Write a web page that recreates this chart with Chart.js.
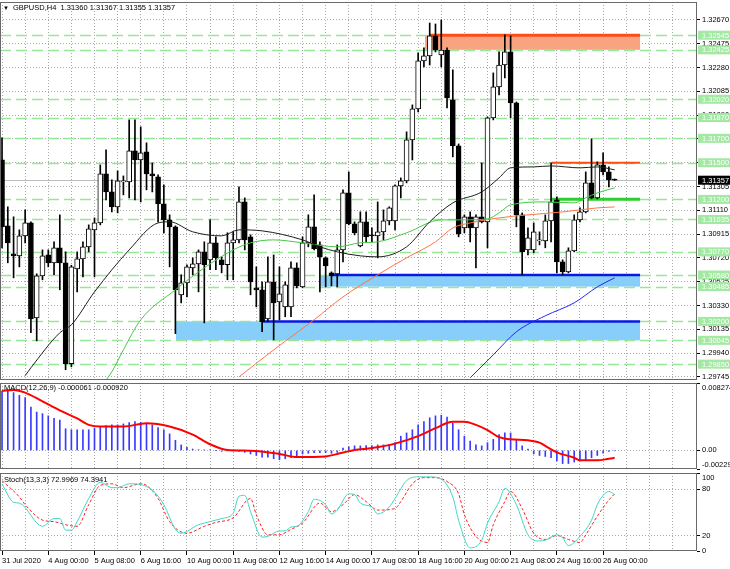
<!DOCTYPE html>
<html><head><meta charset="utf-8">
<script src="https://cdn.jsdelivr.net/npm/chart.js@4/dist/chart.umd.min.js"></script>
<style>
html,body{margin:0;padding:0;background:#fff;width:730px;height:569px;overflow:hidden;position:relative}
canvas{position:absolute;left:0}
#c1{top:0}
#c2{top:376px}
#c3{top:466px}
</style></head><body>
<canvas id="c1" width="730" height="381"></canvas>
<canvas id="c2" width="730" height="96"></canvas>
<canvas id="c3" width="730" height="103"></canvas>
<script>
// ---------------- DATA ----------------
const symbolTitle = 'GBPUSD,H4';
const barIdx = [...Array(107).keys()];
const openP = [1.31523,1.30983,1.30754,1.30737,1.30901,1.31007,1.30229,1.30573,1.30745,1.30680,
 1.30803,1.30680,1.29853,1.30631,1.30713,1.30811,1.30950,1.31007,1.31409,1.31261,
 1.31139,1.31343,1.31343,1.31597,1.31523,1.31589,1.31409,1.31384,1.31163,1.31032,
 1.30975,1.30418,1.30516,1.30639,1.30672,1.30770,1.30704,1.30844,1.30704,1.30664,
 1.30844,1.30868,1.31179,1.30893,1.30475,1.30459,1.30221,1.30524,1.30360,1.30319,
 1.30319,1.30639,1.30483,1.30844,1.30975,1.30827,1.30721,1.30598,1.30590,1.30786,
 1.31253,1.30999,1.30819,1.31016,1.30909,1.30901,1.30934,1.31024,1.31024,1.31310,
 1.31351,1.31687,1.31941,1.32334,1.32375,1.32539,1.32383,1.32424,1.32015,1.31638,
 1.30966,1.31057,1.30966,1.31057,1.31016,1.31867,1.32121,1.32301,1.32408,1.31990,
 1.31073,1.30786,1.30786,1.30860,1.30860,1.31024,1.31196,1.30688,1.30606,1.30778,
 1.31032,1.31098,1.31335,1.31212,1.31482,1.31425,1.31360];
const highP = [1.31704,1.31139,1.31057,1.30950,1.31114,1.31016,1.30590,1.30786,1.30786,1.30852,
 1.31073,1.30770,1.30660,1.30770,1.30852,1.30991,1.31048,1.31482,1.31605,1.31360,
 1.31433,1.31392,1.31851,1.31851,1.31794,1.31663,1.31499,1.31401,1.31319,1.31073,
 1.30983,1.30582,1.30664,1.30721,1.30786,1.30852,1.31032,1.30893,1.30729,1.30926,
 1.30934,1.31302,1.31212,1.30909,1.30647,1.30524,1.30729,1.30745,1.30647,1.30524,
 1.30688,1.30680,1.30893,1.31073,1.31237,1.30852,1.30729,1.30606,1.30827,1.31278,
 1.31425,1.31016,1.31098,1.31098,1.30966,1.31179,1.31114,1.31139,1.31319,1.31376,
 1.31753,1.31974,1.32400,1.32441,1.32645,1.32637,1.32670,1.32441,1.32261,1.31654,
 1.31073,1.31098,1.31073,1.31499,1.31875,1.32236,1.32408,1.32547,1.32539,1.31998,
 1.31089,1.30966,1.31007,1.30934,1.31073,1.31499,1.31220,1.30704,1.30803,1.31073,
 1.31130,1.31425,1.31695,1.31507,1.31581,1.31466,1.31367];
const lowP = [1.30803,1.30680,1.30557,1.30647,1.30844,1.30107,1.30041,1.30541,1.30647,1.30582,
 1.30459,1.29804,1.29828,1.30442,1.30565,1.30770,1.30565,1.30991,1.31196,1.31098,
 1.31089,1.31237,1.31212,1.31196,1.31179,1.31278,1.31261,1.31016,1.30926,1.30647,
 1.30100,1.30352,1.30401,1.30582,1.30442,1.30188,1.30623,1.30623,1.30598,1.30541,
 1.30541,1.30844,1.30786,1.30418,1.30319,1.30115,1.30197,1.30049,1.30213,1.30238,
 1.30238,1.30475,1.30475,1.30811,1.30786,1.30442,1.30483,1.30491,1.30483,1.30688,
 1.30991,1.30909,1.30811,1.30852,1.30852,1.30721,1.30868,1.30991,1.30950,1.31212,
 1.31335,1.31523,1.31917,1.32285,1.32301,1.32408,1.32285,1.31949,1.31548,1.30893,
 1.30926,1.30852,1.30639,1.31007,1.30803,1.31851,1.32056,1.32195,1.31867,1.30975,
 1.30582,1.30745,1.30762,1.30827,1.30803,1.30852,1.30598,1.30582,1.30598,1.30770,
 1.31016,1.31089,1.31204,1.31204,1.31401,1.31302,1.31355];
const closeP = [1.30975,1.30844,1.30737,1.30901,1.31007,1.30221,1.30573,1.30737,1.30680,1.30803,
 1.30680,1.29853,1.30647,1.30713,1.30811,1.30958,1.31007,1.31409,1.31261,1.31139,
 1.31351,1.31351,1.31597,1.31523,1.31581,1.31409,1.31392,1.31163,1.31032,1.30975,
 1.30459,1.30516,1.30647,1.30672,1.30770,1.30664,1.30844,1.30721,1.30664,1.30844,
 1.30868,1.31179,1.30868,1.30524,1.30459,1.30197,1.30524,1.30352,1.30426,1.30500,
 1.30639,1.30491,1.30844,1.30975,1.30795,1.30729,1.30655,1.30573,1.30786,1.31253,
 1.30999,1.30926,1.31016,1.30893,1.30901,1.30934,1.31024,1.31130,1.31310,1.31351,
 1.31687,1.31941,1.32334,1.32375,1.32539,1.32424,1.32424,1.32031,1.31638,1.30917,
 1.31057,1.30966,1.31057,1.31016,1.31867,1.32121,1.32301,1.32408,1.31990,1.31073,
 1.30770,1.30885,1.30934,1.30868,1.31024,1.31179,1.30688,1.30606,1.30778,1.31032,
 1.31098,1.31335,1.31212,1.31482,1.31425,1.31360,1.31357];

// moving averages (bar index / value)
const maBlackBars = [4,5,10,12,16,22,27,29,33,38,41,45,52,55,58,62,65,70,74,78,83,86,88,92,95,100,103,106];
const maBlackVals = [1.29755,1.29820,1.30107,1.30172,1.30442,1.30786,1.31007,1.31016,1.30934,1.30901,1.30950,1.30942,1.30868,1.30811,1.30770,1.30737,1.30729,1.30811,1.31016,1.31171,1.31261,1.31376,1.31458,1.31466,1.31474,1.31458,1.31466,1.31442];
const maGreenBars = [18,19,21,24,30,35,40,43,47,52,58,62,65,70,76,80,84,86,88,94,99,101,103,106];
const maGreenVals = [1.29720,1.29787,1.29967,1.30213,1.30459,1.30639,1.30786,1.30844,1.30868,1.30844,1.30811,1.30844,1.30852,1.30926,1.31032,1.31032,1.31040,1.31089,1.31155,1.31179,1.31171,1.31212,1.31253,1.31294];
const maOrangeBars = [41,47,51,54,59,65,70,75,78,81,86,91,97,103,106];
const maOrangeVals = [1.29745,1.29967,1.30107,1.30213,1.30401,1.30582,1.30721,1.30852,1.30966,1.31007,1.31048,1.31073,1.31097,1.31130,1.31138];
const maBlueBars = [81,85,89,94,99,103,106];
const maBlueVals = [1.29738,1.29926,1.30115,1.30246,1.30352,1.30483,1.30557];

// horizontal levels, rectangles, lines
const levelPrices = [1.32545,1.32425,1.32020,1.31870,1.31700,1.31500,1.31200,1.31035,1.30770,1.30580,1.30485,1.30200,1.30045,1.29850];
const lastPrice = 1.31357;
const rectFromBar = [73.2, 55.1, 30.1];
const rectToBar = [110.4, 110.4, 110.4];
const rectHigh = [1.32545, 1.30580, 1.30200];
const rectLow = [1.32425, 1.30485, 1.30045];
const trendFromBar = [74, 57, 45, 95.1, 95.1];
const trendToBar = [110.4, 110.4, 110.4, 110.4, 110.4];
const trendPrice = [1.32545, 1.30580, 1.30200, 1.31500, 1.31200];

// axis ticks
const priceTicks = [1.32670,1.32475,1.32280,1.32085,1.31890,1.31695,1.31500,1.31305,1.31110,1.30915,1.30720,1.30525,1.30330,1.30135,1.29940,1.29745];
const gridBars = [0,4,8,12,16,20,24,28,32,36,40,44,48,52,56,60,64,68,72,76,80,84,88,92,96,100,104,108,112,116];
const dateTickBars = [0,8,16,24,32,40,48,56,64,72,80,88,96,104];
const dateTickLabels = ['31 Jul 2020','4 Aug 00:00','5 Aug 08:00','6 Aug 16:00','10 Aug 00:00','11 Aug 08:00','12 Aug 16:00','14 Aug 00:00','17 Aug 08:00','18 Aug 16:00','20 Aug 00:00','21 Aug 08:00','24 Aug 16:00','26 Aug 00:00'];

// MACD
const macdTitle = 'MACD(12,26,9) -0.000061 -0.000920';
const macdHist = [0.00729,0.00741,0.00709,0.00677,0.00649,0.00531,0.00471,0.00451,0.00424,0.00392,
 0.00372,0.00265,0.00253,0.00253,0.00253,0.00253,0.00273,0.00293,0.00305,0.00313,
 0.00313,0.00325,0.00341,0.00352,0.00345,0.00333,0.00313,0.00281,0.00253,0.00202,
 0.00123,0.00067,0.00036,0.00016,0.00008,0.00004,0.00004,0.00000,-0.00012,-0.00004,
 -0.00004,-0.00012,-0.00024,-0.00044,-0.00063,-0.00083,-0.00083,-0.00103,-0.00115,-0.00103,
 -0.00091,-0.00083,-0.00044,-0.00036,-0.00028,-0.00028,-0.00028,-0.00036,-0.00024,0.00028,
 0.00044,0.00055,0.00055,0.00059,0.00059,0.00067,0.00067,0.00075,0.00095,0.00174,
 0.00214,0.00253,0.00313,0.00352,0.00400,0.00424,0.00432,0.00408,0.00333,0.00253,
 0.00174,0.00115,0.00067,0.00055,0.00095,0.00135,0.00194,0.00214,0.00214,0.00135,
 0.00055,0.00016,-0.00044,-0.00063,-0.00075,-0.00091,-0.00131,-0.00162,-0.00162,-0.00143,
 -0.00131,-0.00115,-0.00091,-0.00063,-0.00036,-0.00012,-0.00006];
const macdSigBars = [0,2,4,7,10,13,15,17,21,25,29,33,36,39,43,48,51,56,58,61,64,68,72,75,78,80,82,84,86,88,91,93,94,96,99,100,103,105,106];
const macdSigVals = [0.00729,0.00741,0.00709,0.00602,0.00491,0.00392,0.00313,0.00293,0.00293,0.00333,0.00293,0.00194,0.00075,0.00004,-0.00004,-0.00044,-0.00083,-0.00075,-0.00044,0.00004,0.00028,0.00083,0.00174,0.00273,0.00352,0.00352,0.00313,0.00249,0.00162,0.00135,0.00123,0.00095,0.00055,-0.00024,-0.00091,-0.00123,-0.00123,-0.00103,-0.00092];
const macdTicks = [-0.00229, 0, 0.008274];
const macdTickLabels = ['-0.00229', '0.00', '0.008274'];

// Stochastic
const stochTitle = 'Stoch(13,3,3) 72.9969 74.3941';
const stKBars = [0,2,3,7,9,10,11,12,13,15,17,19,20,22,24,26,28,30,31,34,36,38,40,41,42,43,45,46,48,49,50,51,53,54,56,57,58,60,61,62,64,65,67,68,70,72,74,76,78,79,81,83,84,86,87,89,91,93,94,96,97,98,100,102,103,104,105,106];
const stKVals = [87,63,62,32,42,42,27,27,38,68,89,82,82,87,86,79,60,28,23,34,38,42,49,71,72,51,18,19,26,26,31,32,51,67,60,48,53,74,73,62,57,48,57,68,91,96,96,93,70,40,4,14,36,64,81,60,21,13,14,21,17,7,19,40,60,72,77,73];
const stDBars = [0,3,4,7,9,11,13,15,17,19,21,24,25,27,29,32,35,37,40,43,44,46,48,50,52,55,57,59,61,63,65,68,69,71,73,75,77,79,80,82,84,85,87,88,90,92,94,96,98,100,101,103,105,106];
const stDVals = [91,70,60,40,38,34,32,60,85,87,82,87,85,68,38,23,32,37,43,68,47,21,21,28,36,62,51,60,73,64,53,55,64,87,95,95,90,74,47,19,11,34,64,77,55,23,15,20,15,11,21,45,66,74];
const stochTicks = [0, 20, 80, 100];

// ---------------- STYLE / LAYOUT ----------------
const FONT = "'Liberation Sans', Arial, sans-serif";
const GRID = '#a9a9a9';
const FRAME = '#6a6a6a';
const X_MIN = -0.35, X_MAX = 120.25;
Chart.defaults.font.family = FONT;
Chart.defaults.font.size = 7.5;
Chart.defaults.color = '#000';
Chart.defaults.animation = false;
Chart.defaults.plugins.legend.display = false;
Chart.defaults.plugins.tooltip.enabled = false;

const pts = (bars, vals) => bars.map((b, k) => ({x: b, y: vals[k]}));

function xAxis(show) {
  return {
    type: 'linear', min: X_MIN, max: X_MAX, offset: false,
    afterBuildTicks: s => { s.ticks = gridBars.map(v => ({value: v})); },
    afterFit: s => { s.height = show ? 18 : 0; s.paddingLeft = 0; s.paddingRight = 0; },
    grid: {
      color: GRID, offset: false, drawTicks: show, tickLength: 4, tickBorderDash: [],
      tickColor: c => (c.tick && dateTickBars.includes(c.tick.value)) ? '#000' : 'rgba(0,0,0,0)'
    },
    border: {display: false, dash: [1, 2]},
    ticks: {
      display: show, autoSkip: false, maxRotation: 0, minRotation: 0, align: 'start', padding: 1,
      callback: v => { const k = dateTickBars.indexOf(v); return k >= 0 ? dateTickLabels[k] : ''; }
    }
  };
}
function yAxisBase(extra) {
  return Object.assign({
    position: 'right', beginAtZero: false,
    afterFit: s => { s.width = 33; s.paddingTop = 0; s.paddingBottom = 0; },
    border: {display: false, dash: [1, 2]},
  }, extra);
}
function framePlugin(id, title, titleDy) {
  return {
    id,
    afterDraw(chart) {
      const {ctx, chartArea: a} = chart;
      ctx.save();
      ctx.strokeStyle = FRAME; ctx.lineWidth = 1;
      ctx.strokeRect(Math.round(a.left) + 0.5, Math.round(a.top) + 0.5, Math.round(a.right - a.left) - 1, Math.round(a.bottom - a.top) - 1);
      if (title) {
        ctx.fillStyle = '#000'; ctx.font = '7.5px ' + FONT; ctx.textBaseline = 'middle'; ctx.textAlign = 'left';
        ctx.fillText(title, a.left + 4, a.top + titleDy);
      }
      ctx.restore();
    }
  };
}

// ---------------- MAIN PRICE CHART ----------------
const levelPlugin = {
  id: 'levels',
  beforeDatasetsDraw(chart) {
    const {ctx, chartArea: a, scales: {x, y}} = chart;
    ctx.save();
    ctx.beginPath(); ctx.rect(a.left, a.top, a.right - a.left, a.bottom - a.top); ctx.clip();
    const fills = ['#f9a481', '#87cefa', '#87cefa'];
    rectFromBar.forEach((b, k) => {
      const x1 = x.getPixelForValue(b), x2 = x.getPixelForValue(rectToBar[k]);
      const y1 = y.getPixelForValue(rectHigh[k]), y2 = y.getPixelForValue(rectLow[k]);
      ctx.fillStyle = fills[k];
      ctx.fillRect(x1, y1, x2 - x1, y2 - y1);
    });
    ctx.strokeStyle = '#98e698'; ctx.lineWidth = 1.3; ctx.setLineDash([11, 5]);
    levelPrices.forEach(p => {
      const yy = Math.round(y.getPixelForValue(p)) + 0.5;
      ctx.beginPath(); ctx.moveTo(a.left, yy); ctx.lineTo(a.right, yy); ctx.stroke();
    });
    ctx.setLineDash([]);
    const yl = Math.round(y.getPixelForValue(lastPrice)) + 0.5;
    ctx.strokeStyle = '#bdbdbd'; ctx.lineWidth = 1;
    ctx.beginPath(); ctx.moveTo(a.left, yl); ctx.lineTo(a.right, yl); ctx.stroke();
    const cols = ['#ff4b14', '#0a18e6', '#0a18e6', '#ff4b14', '#2ccf2c'];
    const widths = [3, 2.5, 2.5, 2, 3];
    trendFromBar.forEach((b, k) => {
      const yy = y.getPixelForValue(trendPrice[k]);
      ctx.strokeStyle = cols[k]; ctx.lineWidth = widths[k];
      ctx.beginPath(); ctx.moveTo(x.getPixelForValue(b), yy); ctx.lineTo(x.getPixelForValue(trendToBar[k]), yy); ctx.stroke();
    });
    ctx.restore();
  },
  afterDraw(chart) {
    const {ctx, chartArea: a, scales: {y}} = chart;
    ctx.save();
    ctx.font = '7.5px ' + FONT; ctx.textBaseline = 'middle'; ctx.textAlign = 'left';
    levelPrices.forEach(p => {
      const yy = y.getPixelForValue(p);
      ctx.fillStyle = '#a3e8a3'; ctx.fillRect(a.right + 1, yy - 4.5, 32, 9);
      ctx.fillStyle = '#ffffff'; ctx.fillText(p.toFixed(5), a.right + 5, yy + 0.5);
    });
    const yl = y.getPixelForValue(lastPrice);
    ctx.fillStyle = '#000'; ctx.fillRect(a.right + 1, yl - 4.5, 32, 9);
    ctx.fillStyle = '#fff'; ctx.fillText(lastPrice.toFixed(5), a.right + 5, yl + 0.5);
    ctx.fillStyle = '#000';
    ctx.font = '6px ' + FONT;
    ctx.fillText('▼', a.left + 3, 8);
    ctx.font = '7.5px ' + FONT;
    const n = openP.length - 1;
    ctx.fillText(symbolTitle + '  ' + [openP[n], highP[n], lowP[n], closeP[n]].map(v => v.toFixed(5)).join(' '), a.left + 13, 8);
    ctx.restore();
  }
};

new Chart(document.getElementById('c1'), {
  type: 'bar',
  data: {
    datasets: [
      {type: 'line', data: pts(maBlackBars, maBlackVals), borderColor: '#1e1e1e', borderWidth: 1, pointRadius: 0, cubicInterpolationMode: 'monotone', order: 0},
      {type: 'line', data: pts(maGreenBars, maGreenVals), borderColor: '#46c846', borderWidth: 1, pointRadius: 0, cubicInterpolationMode: 'monotone', order: 0},
      {type: 'line', data: pts(maOrangeBars, maOrangeVals), borderColor: '#ff7446', borderWidth: 1, pointRadius: 0, cubicInterpolationMode: 'monotone', order: 0},
      {type: 'line', data: pts(maBlueBars, maBlueVals), borderColor: '#2424ff', borderWidth: 1, pointRadius: 0, cubicInterpolationMode: 'monotone', order: 0},
      {data: barIdx.map(i => ({x: i, y: [openP[i], closeP[i]]})), barThickness: 5, grouped: false, minBarLength: 1,
       backgroundColor: c => closeP[c.dataIndex] >= openP[c.dataIndex] ? '#ffffff' : '#000000',
       borderColor: '#000', borderWidth: 1, borderSkipped: false, order: 1},
      {data: barIdx.map(i => ({x: i, y: [lowP[i], highP[i]]})), barThickness: 1, grouped: false,
       backgroundColor: '#000', borderWidth: 0, order: 2}
    ]
  },
  options: {
    responsive: false, devicePixelRatio: 1,
    layout: {padding: {top: 2, left: 0, right: 0, bottom: 1}},
    scales: {
      x: xAxis(false),
      y: yAxisBase({
        min: 1.29720, max: 1.32817,
        afterBuildTicks: s => { s.ticks = priceTicks.map(v => ({value: v})); },
        ticks: {autoSkip: false, padding: 2, callback: v => v.toFixed(5)},
        grid: {color: GRID, tickColor: '#000', tickLength: 3, tickBorderDash: []}
      })
    }
  },
  plugins: [levelPlugin, framePlugin('f1', null, 0)]
});

// ---------------- MACD ----------------
new Chart(document.getElementById('c2'), {
  type: 'bar',
  data: {
    datasets: [
      {type: 'line', data: pts(macdSigBars, macdSigVals), borderColor: '#ff0000', borderWidth: 2, pointRadius: 0, cubicInterpolationMode: 'monotone', order: 0},
      {data: barIdx.map(i => ({x: i, y: macdHist[i]})), barThickness: 1, grouped: false, backgroundColor: '#3a3aff', borderWidth: 0, order: 1}
    ]
  },
  options: {
    responsive: false, devicePixelRatio: 1,
    layout: {padding: {top: 7, left: 0, right: 0, bottom: 3}},
    scales: {
      x: xAxis(false),
      y: yAxisBase({
        min: macdTicks[0], max: macdTicks[2],
        afterBuildTicks: s => { s.ticks = macdTicks.map(v => ({value: v})); },
        ticks: {autoSkip: false, padding: 2, callback: (v, i, t) => {
          const lab = macdTickLabels[i];
          if (i === t.length - 1) return ['', lab];
          if (i === 0) return [lab, ''];
          return lab;
        }},
        grid: {color: c => (c.tick && c.tick.value === 0) ? GRID : 'rgba(0,0,0,0)', tickColor: '#000', tickLength: 3, tickBorderDash: []}
      })
    }
  },
  plugins: [framePlugin('f2', macdTitle, 4.5)]
});

// ---------------- STOCHASTIC ----------------
new Chart(document.getElementById('c3'), {
  type: 'line',
  data: {
    datasets: [
      {data: pts(stKBars, stKVals), borderColor: '#3fd6c6', borderWidth: 1, pointRadius: 0, cubicInterpolationMode: 'monotone'},
      {data: pts(stDBars, stDVals), borderColor: '#ff2020', borderWidth: 1, borderDash: [3, 2], pointRadius: 0, cubicInterpolationMode: 'monotone'}
    ]
  },
  options: {
    responsive: false, devicePixelRatio: 1,
    layout: {padding: {top: 7, left: 0, right: 0, bottom: 0}},
    scales: {
      x: xAxis(true),
      y: yAxisBase({
        min: 0, max: 101,
        afterBuildTicks: s => { s.ticks = stochTicks.map(v => ({value: v})); },
        ticks: {autoSkip: false, padding: 2, callback: (v, i, t) => (i === t.length - 1 ? ['', String(v)] : String(v))},
        grid: {color: c => (c.tick && (c.tick.value === 20 || c.tick.value === 80)) ? GRID : 'rgba(0,0,0,0)', tickColor: '#000', tickLength: 3, tickBorderDash: []}
      })
    }
  },
  plugins: [framePlugin('f3', stochTitle, 7)]
});
</script>
</body></html>
